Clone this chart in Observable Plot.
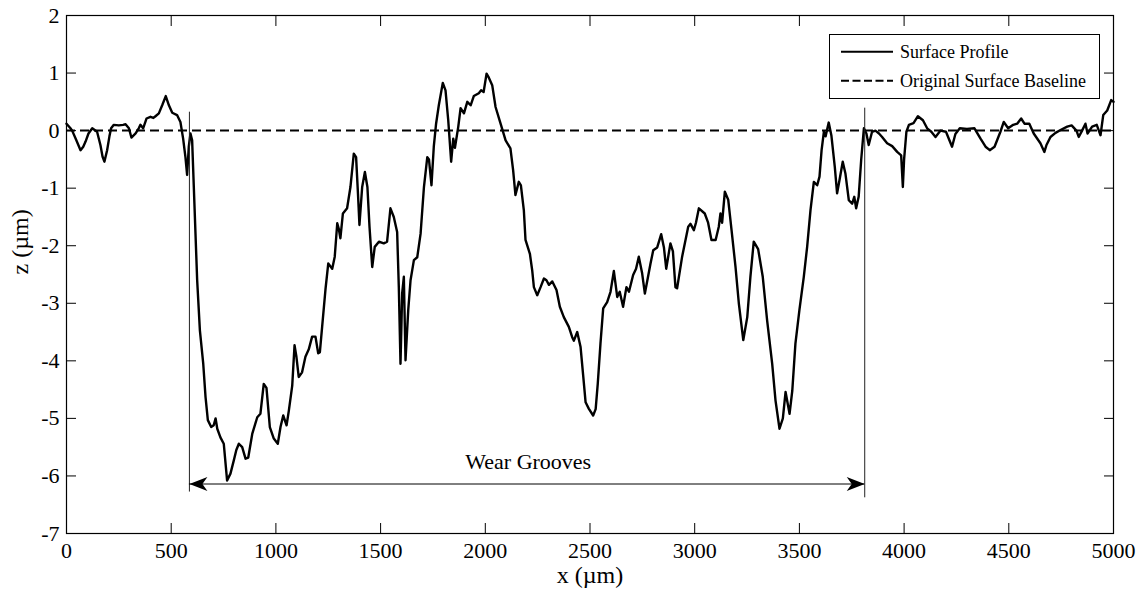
<!DOCTYPE html>
<html><head><meta charset="utf-8">
<script src="https://cdn.jsdelivr.net/npm/d3@7"></script>
<script src="https://cdn.jsdelivr.net/npm/@observablehq/plot@0.6"></script>
<style>
html,body{margin:0;padding:0;background:#fff;}
#wrap{position:relative;width:1147px;height:592px;overflow:hidden;}
#wrap svg{display:block;}
#legend{position:absolute;left:829px;top:34px;}
</style></head><body><div id="wrap"></div>
<script>
const xTicks = [0, 500, 1000, 1500, 2000, 2500, 3000, 3500, 4000, 4500, 5000];
const yTicks = [2, 1, 0, -1, -2, -3, -4, -5, -6, -7];

const profileX = [0,19,27,45,67,80,91,105,123,146,162,172,181,194,205,213,226,250,270,282,298,310,330,345,353,366,382,401,415,425,441,457,474,489,505,528,544,557,568,576,584,592,600,608,616,624,637,653,664,675,691,703,712,720,735,751,767,783,799,811,823,839,855,868,887,911,926,942,955,971,990,1009,1022,1035,1051,1062,1078,1089,1098,1109,1125,1141,1157,1173,1189,1202,1210,1221,1237,1250,1269,1281,1293,1300,1308,1320,1340,1356,1372,1383,1392,1399,1412,1425,1437,1447,1460,1472,1492,1515,1531,1547,1563,1579,1587,1595,1600,1603,1611,1619,1632,1643,1659,1675,1691,1707,1723,1731,1743,1754,1765,1778,1797,1810,1823,1837,1847,1855,1871,1882,1898,1914,1930,1945,1969,1980,1992,2006,2017,2033,2049,2073,2097,2120,2133,2144,2160,2170,2184,2192,2213,2224,2232,2248,2264,2280,2292,2304,2320,2340,2356,2375,2399,2415,2423,2439,2455,2468,2479,2494,2515,2527,2537,2550,2563,2582,2598,2614,2630,2642,2658,2674,2686,2706,2720,2733,2749,2762,2774,2789,2802,2821,2840,2853,2864,2884,2896,2908,2916,2940,2969,2980,2996,3006,3020,3048,3064,3080,3100,3115,3123,3131,3144,3160,3176,3195,3211,3232,3251,3266,3282,3303,3325,3346,3370,3386,3405,3421,3434,3453,3466,3481,3500,3521,3537,3553,3569,3585,3596,3606,3617,3625,3640,3653,3669,3680,3692,3707,3720,3736,3752,3762,3771,3783,3795,3808,3820,3831,3847,3863,3880,3895,3919,3943,3967,3986,3994,4000,4011,4023,4045,4066,4090,4110,4130,4150,4174,4200,4229,4245,4266,4300,4336,4365,4389,4409,4432,4460,4476,4497,4521,4540,4559,4575,4598,4619,4651,4670,4680,4699,4723,4747,4779,4800,4823,4834,4850,4866,4876,4898,4920,4938,4951,4970,4989,5000];
const profileZ = [0.12,0.04,0.0,-0.15,-0.34,-0.28,-0.19,-0.05,0.04,-0.02,-0.25,-0.45,-0.54,-0.34,-0.1,0.04,0.1,0.09,0.1,0.11,0.04,-0.12,-0.05,0.04,0.1,0.04,0.21,0.24,0.22,0.25,0.3,0.44,0.6,0.44,0.31,0.27,0.15,-0.14,-0.46,-0.77,-0.28,-0.05,-0.17,-0.98,-1.79,-2.6,-3.47,-4.05,-4.63,-5.03,-5.15,-5.12,-5.0,-5.18,-5.33,-5.44,-6.08,-5.96,-5.73,-5.55,-5.44,-5.5,-5.7,-5.68,-5.27,-4.98,-4.92,-4.4,-4.47,-5.15,-5.35,-5.44,-5.15,-4.95,-5.12,-4.86,-4.43,-3.73,-3.93,-4.28,-4.2,-3.93,-3.8,-3.58,-3.58,-3.87,-3.85,-3.4,-2.75,-2.31,-2.4,-2.19,-1.61,-1.7,-1.87,-1.44,-1.35,-0.98,-0.4,-0.46,-1.1,-1.64,-0.98,-0.72,-0.98,-1.67,-2.37,-2.02,-1.93,-1.96,-1.93,-1.35,-1.5,-1.76,-2.72,-4.05,-3.3,-2.83,-2.54,-3.99,-3.12,-2.6,-2.25,-2.2,-1.79,-0.98,-0.46,-0.5,-0.95,-0.28,0.12,0.44,0.83,0.7,0.18,-0.54,-0.14,-0.3,0.07,0.39,0.3,0.5,0.44,0.6,0.65,0.7,0.67,0.99,0.92,0.79,0.41,0.12,-0.17,-0.31,-0.69,-1.12,-0.89,-0.95,-1.38,-1.9,-2.14,-2.43,-2.72,-2.86,-2.72,-2.57,-2.6,-2.68,-2.62,-2.77,-3.06,-3.24,-3.41,-3.59,-3.65,-3.5,-3.76,-4.28,-4.72,-4.83,-4.95,-4.84,-4.4,-3.7,-3.09,-2.98,-2.8,-2.44,-2.89,-2.8,-3.06,-2.72,-2.8,-2.51,-2.4,-2.19,-2.48,-2.83,-2.6,-2.31,-2.08,-2.03,-1.8,-2.03,-2.4,-1.96,-2.1,-2.72,-2.74,-2.19,-1.67,-1.62,-1.73,-1.6,-1.35,-1.44,-1.6,-1.9,-1.9,-1.67,-1.44,-1.6,-1.06,-1.2,-1.73,-2.37,-3.01,-3.64,-3.24,-2.54,-1.93,-2.06,-2.54,-3.3,-4.05,-4.69,-5.18,-5.0,-4.54,-4.92,-4.52,-3.7,-3.12,-2.54,-2.02,-1.38,-0.89,-0.95,-0.8,-0.34,-0.02,-0.1,0.14,-0.09,-0.63,-1.09,-0.85,-0.54,-0.75,-1.21,-1.27,-1.15,-1.35,-1.15,-0.51,0.04,-0.05,-0.25,-0.02,0.0,-0.05,-0.11,-0.22,-0.27,-0.37,-0.43,-0.98,-0.5,-0.02,0.1,0.13,0.25,0.18,0.04,-0.02,-0.11,0.0,-0.02,-0.28,-0.06,0.04,0.03,0.04,-0.14,-0.28,-0.34,-0.28,-0.02,0.15,0.04,0.1,0.12,0.21,0.12,0.12,-0.05,-0.22,-0.37,-0.25,-0.11,-0.04,0.01,0.07,0.09,0.0,-0.11,0.0,0.12,-0.05,0.07,0.1,-0.08,0.27,0.35,0.53,0.5];

const baselineZ = [0];
const grooveX = [587, 3812];
const grooveTop = [0.32, 0.39];
const grooveBottom = [-6.28, -6.38];
const arrowZ = [-6.14];
const annotationText = ["Wear Grooves"];
const annotationX = [2205];
const annotationZ = [-5.75];
const xLabel = ["x (\u00b5m)"];
const yLabel = ["z (\u00b5m)"];
const legendLabels = ["Surface Profile", "Original Surface Baseline"];

const profile = profileX.map((x, i) => ({x, z: profileZ[i]}));
const grooves = grooveX.map((x, i) => ({x, top: grooveTop[i], bottom: grooveBottom[i]}));

const headLeft = {draw(ctx) { ctx.moveTo(0, 0); ctx.lineTo(18, -7); ctx.lineTo(13, 0); ctx.lineTo(18, 7); ctx.closePath(); }};
const headRight = {draw(ctx) { ctx.moveTo(0, 0); ctx.lineTo(-18, -7); ctx.lineTo(-13, 0); ctx.lineTo(-18, 7); ctx.closePath(); }};

const fmt = d => String(d);
const FONT = "Liberation Serif, Times New Roman, serif";

const chart = Plot.plot({
  width: 1147,
  height: 592,
  marginLeft: 66,
  marginRight: 34,
  marginTop: 15,
  marginBottom: 59,
  style: {fontFamily: FONT, fontSize: "22px", color: "black", background: "white"},
  x: {domain: [0, 5000]},
  y: {domain: [-7, 2]},
  marks: [
    Plot.axisX(xTicks, {anchor: "bottom", tickSize: 0, tickPadding: 9, tickFormat: fmt, label: null, fontSize: 22}),
    Plot.axisX(xTicks, {anchor: "bottom", tickSize: -10, tickFormat: () => "", label: null}),
    Plot.axisX(xTicks, {anchor: "top", tickSize: -10, tickFormat: () => "", label: null}),
    Plot.axisY(yTicks, {anchor: "left", tickSize: 0, tickPadding: 7, tickFormat: fmt, label: null, fontSize: 22}),
    Plot.axisY(yTicks, {anchor: "left", tickSize: -10, tickFormat: () => "", label: null}),
    Plot.axisY(yTicks, {anchor: "right", tickSize: -10, tickFormat: () => "", label: null}),
    Plot.frame({stroke: "black", strokeWidth: 1.2}),
    Plot.ruleY(baselineZ, {stroke: "black", strokeWidth: 2, strokeDasharray: "9,5"}),
    Plot.line(profile, {x: "x", y: "z", stroke: "black", strokeWidth: 2.4}),
    Plot.ruleX(grooves, {x: "x", y1: "top", y2: "bottom", stroke: "#222", strokeWidth: 1}),
    Plot.ruleY(arrowZ, {x1: () => grooveX[0], x2: () => grooveX[1], stroke: "black", strokeWidth: 1}),
    Plot.dot(arrowZ, {x: () => grooveX[0], y: d => d, symbol: headLeft, fill: "black", stroke: "none"}),
    Plot.dot(arrowZ, {x: () => grooveX[1], y: d => d, symbol: headRight, fill: "black", stroke: "none"}),
    Plot.text(annotationText, {x: () => annotationX[0], y: () => annotationZ[0], text: d => d, fontSize: 22, fill: "black"}),
    Plot.text(xLabel, {text: d => d, frameAnchor: "bottom", dy: 49, fontSize: 24, fill: "black"}),
    Plot.text(yLabel, {text: d => d, frameAnchor: "left", dx: -46, rotate: -90, fontSize: 24, fill: "black"})
  ]
});
document.getElementById("wrap").appendChild(chart);

// Legend box (inside the axes, top-right)
const leg = d3.select("#wrap").append("svg")
  .attr("id", "legend").attr("width", 272).attr("height", 66)
  .style("font-family", FONT);
leg.append("rect").attr("x", 0.5).attr("y", 0.5).attr("width", 270).attr("height", 64)
  .attr("fill", "white").attr("stroke", "black").attr("stroke-width", 1);
const rows = [{y: 17.7, dash: null}, {y: 46.7, dash: "8,3.5"}];
rows.forEach((r, i) => {
  leg.append("line").attr("x1", 12).attr("x2", 64).attr("y1", r.y).attr("y2", r.y)
    .attr("stroke", "black").attr("stroke-width", 2).attr("stroke-dasharray", r.dash);
  leg.append("text").attr("x", 71).attr("y", r.y + 6.5).attr("font-size", 18).attr("fill", "black")
    .text(legendLabels[i]);
});
</script></body></html>
